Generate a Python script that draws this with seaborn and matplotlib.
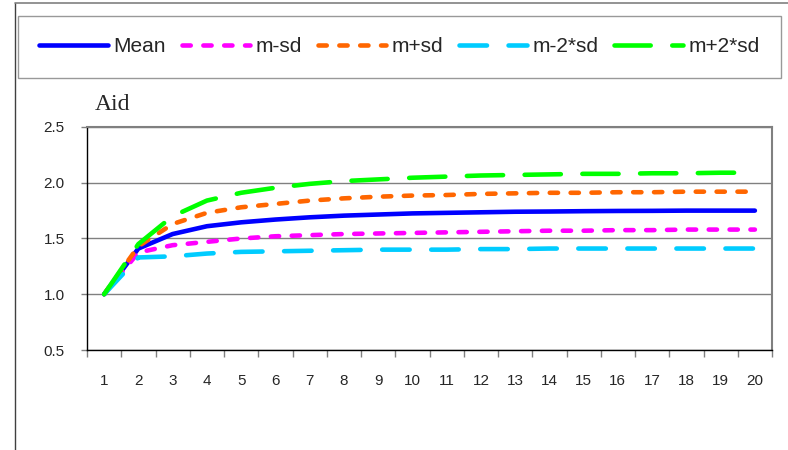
import matplotlib
matplotlib.use("Agg")
import matplotlib.pyplot as plt
import seaborn as sns
import pandas as pd
from matplotlib.lines import Line2D
from matplotlib.ticker import MultipleLocator, FixedLocator


periods = list(range(1, 21))
mean = [1.00, 1.41, 1.54, 1.61, 1.645, 1.67, 1.69, 1.705, 1.715, 1.725,
        1.73, 1.735, 1.74, 1.742, 1.745, 1.747, 1.748, 1.75, 1.75, 1.75]
m_sd = [1.00, 1.375, 1.44, 1.47, 1.50, 1.52, 1.53, 1.54, 1.545, 1.55,
        1.555, 1.56, 1.565, 1.57, 1.57, 1.575, 1.575, 1.58, 1.58, 1.58]
p_sd = [1.00, 1.43, 1.63, 1.73, 1.78, 1.81, 1.84, 1.86, 1.875, 1.885,
        1.89, 1.90, 1.905, 1.91, 1.91, 1.915, 1.915, 1.92, 1.92, 1.92]
m_2sd = [1.00, 1.33, 1.34, 1.365, 1.38, 1.385, 1.39, 1.395, 1.40, 1.40,
         1.40, 1.405, 1.405, 1.41, 1.41, 1.41, 1.41, 1.41, 1.41, 1.41]
p_2sd = [1.00, 1.45, 1.70, 1.84, 1.91, 1.955, 1.99, 2.015, 2.03, 2.045,
         2.055, 2.065, 2.07, 2.075, 2.08, 2.08, 2.085, 2.085, 2.09, 2.09]

series_names = ["Mean", "m-sd", "m+sd", "m-2*sd", "m+2*sd"]
series_values = [mean, m_sd, p_sd, m_2sd, p_2sd]
colors = ["#0000FF", "#FF00FF", "#FF6600", "#00CCFF", "#00FF00"]
styles = ["-", (0, (1.8, 2.75)), (0, (1.8, 2.75)), (0, (6.0, 4.7)), (0, (7.9, 4.7))]
LW = 3.3

df = pd.concat(
    [pd.DataFrame({"period": periods, "value": v, "series": n})
     for n, v in zip(series_names, series_values)],
    ignore_index=True,
)

sns.set_style("white")
plt.rcParams["font.family"] = ["Liberation Sans", "DejaVu Sans"]

fig = plt.figure(figsize=(7.88, 4.5), dpi=100)
ax = fig.add_axes([87 / 788, 100 / 450, 685 / 788, 223 / 450])

for name, color, ls in zip(series_names, colors, styles):
    sns.lineplot(
        data=df[df["series"] == name], x="period", y="value", ax=ax,
        color=color, linewidth=LW, linestyle=ls, label=name,
        dash_capstyle="round", solid_capstyle="round", legend=False,
    )

ax.set_xlim(0.5, 20.5)
ax.set_ylim(0.5, 2.5)
ax.set_xlabel("")
ax.set_ylabel("")

ax.xaxis.set_major_locator(FixedLocator(periods))
ax.xaxis.set_minor_locator(MultipleLocator(1, offset=0.5))
ax.tick_params(axis="x", which="major", length=0, pad=17, labelsize=11)
ax.tick_params(axis="x", which="minor", length=5, width=1, color="#808080",
               direction="out", bottom=True)
ax.yaxis.set_major_locator(MultipleLocator(0.5))
ax.yaxis.set_major_formatter("{x:.1f}")
ax.tick_params(axis="y", length=4, width=1, color="#808080", direction="out",
               left=True, pad=12, labelsize=11)

ax.grid(axis="y", color="#808080", linewidth=1)
ax.set_axisbelow(True)
for side in ["left", "bottom"]:
    ax.spines[side].set_color("black")
    ax.spines[side].set_linewidth(1)
for side in ["top", "right"]:
    ax.spines[side].set_color("#808080")
    ax.spines[side].set_linewidth(1.5)

handles = [
    Line2D([0], [0], color=c, linewidth=LW, linestyle=ls,
           dash_capstyle="round", solid_capstyle="round")
    for c, ls in zip(colors, styles)
]
leg = fig.legend(
    handles, series_names, loc="center",
    bbox_to_anchor=(399.5 / 788, 1 - 47 / 450), ncol=5, fontsize=15,
    handlelength=3.3, handletextpad=0.25, columnspacing=0.75,
    frameon=True, fancybox=False, edgecolor="#808080", borderpad=1.05,
)
leg.get_frame().set_linewidth(1)

fig.text(95 / 788, 1 - 110 / 450, "Aid", family=["Liberation Serif", "DejaVu Serif"],
         fontsize=17, va="baseline", ha="left")

fig.add_artist(Line2D([14.5 / 788, 14.5 / 788], [0, 1 - 3 / 450],
                      transform=fig.transFigure, color="#404040", linewidth=1))
fig.add_artist(Line2D([14.5 / 788, 1], [1 - 3 / 450, 1 - 3 / 450],
                      transform=fig.transFigure, color="#808080", linewidth=1.2))

fig.savefig("out.png", dpi=100)
